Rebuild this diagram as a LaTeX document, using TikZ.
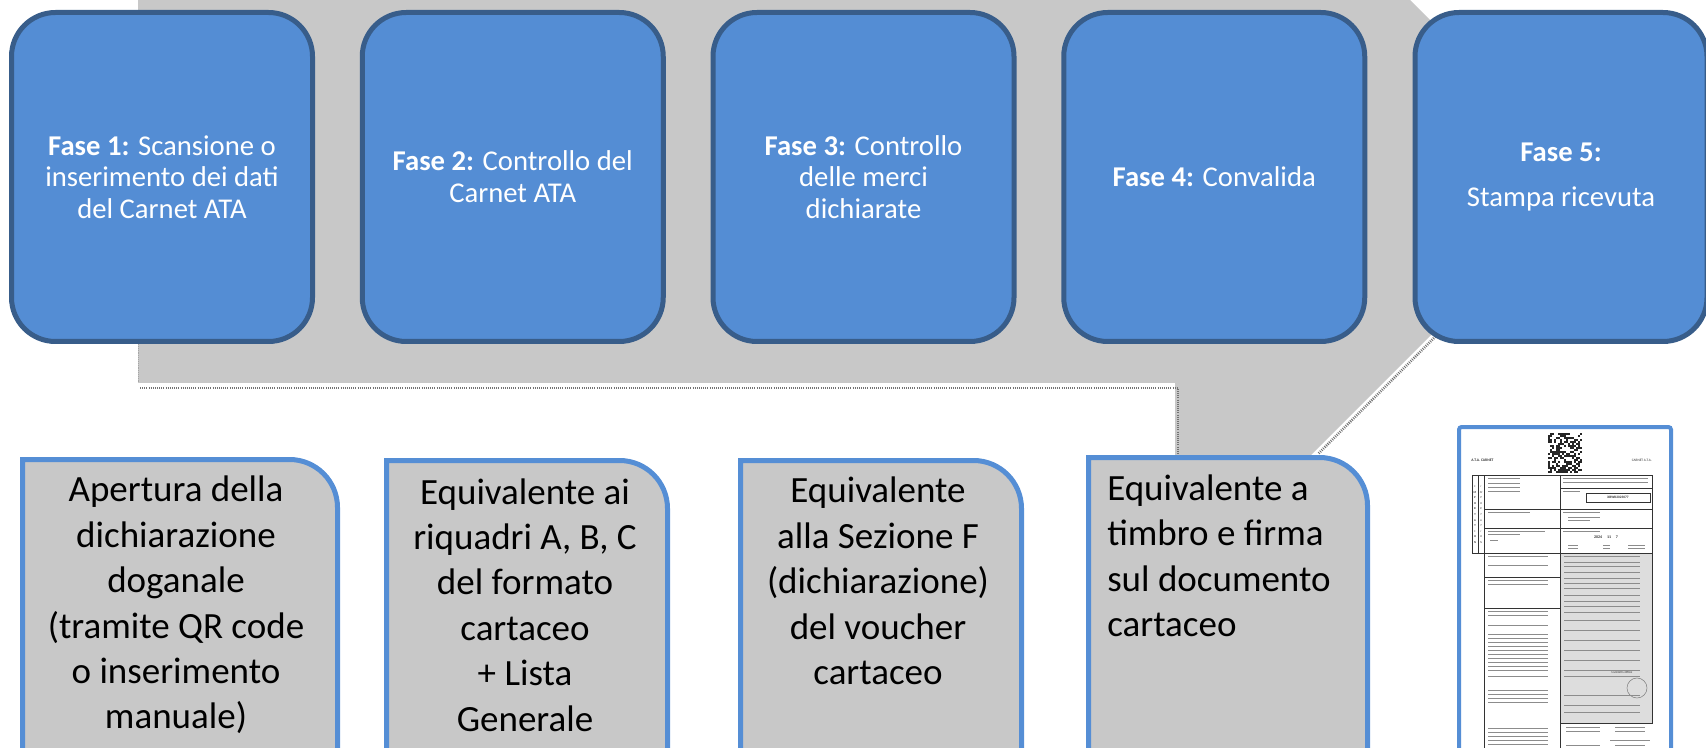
\documentclass[tikz,border=0pt]{standalone}
\usepackage{fontspec}
\setmainfont{Carlito}
\definecolor{phasefill}{HTML}{548DD4}
\definecolor{phaseborder}{HTML}{385D8A}
\definecolor{callgray}{HTML}{C8C8C8}
\definecolor{lightblue}{HTML}{558ED5}
\definecolor{docgray}{HTML}{DDDDDD}
\begin{document}
\begin{tikzpicture}[x=0.75pt,y=-0.75pt,
  phase/.style={draw=phaseborder, fill=phasefill, line width=3.75pt, rounded corners=33pt,
    minimum width=225.75pt, minimum height=246.75pt, text=white, align=center,
    font=\fontsize{21.5}{23.8}\selectfont, inner sep=0pt},
  bottombox/.style={draw=lightblue, fill=callgray, line width=3.75pt},
  bottomtext/.style={align=center, font=\fontsize{27.75}{34.1}\selectfont, inner sep=0pt, text=black},
  rough/.style={draw=black!55, line width=2pt, dash pattern=on 0.7pt off 0.9pt},
  tline/.style={draw=black!45, line width=0.5pt},
  frm/.style={draw=black!80, line width=0.45pt},
  tiny/.style={font=\fontsize{2.6}{3}\selectfont, inner sep=0pt, text=black!80}
]
\useasboundingbox (0,0) rectangle (1706,748);

% gray callout background
\fill[callgray] (138,-10) -- (1400,-10) -- (1588,178) -- (1296,470) -- (1175,470) -- (1175,383) -- (138,383) -- cycle;
\draw[rough] (140,388) -- (1178,388) -- (1178,455);
\draw[rough] (1437,335) -- (1318,454);
\draw[draw=black!35, line width=0.6pt, dash pattern=on 0.6pt off 0.8pt] (138.5,10) -- (138.5,383);

% top phase boxes
\node[phase] (f1) at (162,177) {\textbf{Fase 1:} Scansione o\\inserimento dei dati\\del Carnet ATA};
\node[phase] (f2) at (512.75,177) {\textbf{Fase 2:} Controllo del\\Carnet ATA};
\node[phase] (f3) at (863.5,177) {\textbf{Fase 3:} Controllo\\delle merci\\dichiarate};
\node[phase] (f4) at (1214.25,177) {\textbf{Fase 4:} Convalida};
\node[phase, minimum width=219pt] (f5) at (1561,177) {\textbf{Fase 5:}\\[10pt]Stampa ricevuta};

% bottom boxes
\draw[bottombox] (22.5,800) -- (22.5,459.5) -- (289.5,459.5) arc[start angle=90, end angle=0, radius=36pt] -- (337.5,800) -- cycle;
\draw[bottombox] (386.5,800) -- (386.5,460.5) -- (619.5,460.5) arc[start angle=90, end angle=0, radius=36pt] -- (667.5,800) -- cycle;
\draw[bottombox] (740.5,800) -- (740.5,460.5) -- (973.5,460.5) arc[start angle=90, end angle=0, radius=36pt] -- (1021.5,800) -- cycle;
\draw[bottombox] (1088.5,800) -- (1088.5,457.5) -- (1319.5,457.5) arc[start angle=90, end angle=0, radius=36pt] -- (1367.5,800) -- cycle;

\node[bottomtext] (ta) at (176,605) {Apertura della\\dichiarazione\\doganale\\(tramite QR code\\o inserimento\\manuale)};
\node[bottomtext] (tb) at (525,605) {Equivalente ai\\riquadri A, B, C\\del formato\\cartaceo\\+ Lista\\Generale};
\node[bottomtext] (tc) at (878,581) {Equivalente\\alla Sezione F\\(dichiarazione)\\del voucher\\cartaceo};
\node[bottomtext, align=left, anchor=west] (td) at (1107,556) {Equivalente a\\timbro e firma\\sul documento\\cartaceo};

% document thumbnail
\draw[draw=lightblue, fill=white, line width=3pt, rounded corners=2pt] (1459,800) -- (1459,427) -- (1671,427) -- (1671,800) -- cycle;
\node[tiny, anchor=west, font=\bfseries\fontsize{2.8}{3}\selectfont] (h1) at (1471,460) {A.T.A. CARNET};
\node[tiny, anchor=east] (h2) at (1652,460) {CARNET A.T.A.};
% QR code
\pgfmathsetseed{7}
\fill[black!85] (1548,433) rectangle (1582,473);
\foreach \i in {0,...,16}{\foreach \j in {0,...,19}{
  \pgfmathparse{rnd>0.5?1:0}
  \ifnum\pgfmathresult=1 \fill[white] (1548+2*\i,433+2*\j) rectangle +(2,2);\fi
}}
% upper table
\draw[frm] (1472,475) rectangle (1652,553);
\draw[frm] (1478,475) -- (1478,553);
\draw[frm] (1484,475) -- (1484,553);
\draw[frm] (1560,475) -- (1560,553);
\draw[frm] (1560,488) -- (1652,488);
\draw[frm] (1484,509) -- (1652,509);
\draw[frm] (1484,528) -- (1652,528);
\draw[frm] (1586,493) rectangle (1650,502);
\node[tiny, font=\bfseries\fontsize{2.6}{3}\selectfont] (nr) at (1618,497.5) {XBWK2023077};
\node[tiny, font=\bfseries\fontsize{3}{3}\selectfont] (dt) at (1606,537) {2024 \quad 11 \quad 7};
% left letter columns
\foreach \k [count=\n] in {I,M,P,O,R,T,A,T,I,O,N}{
  \node[tiny, font=\bfseries\fontsize{2.2}{2.4}\selectfont] at (1475,481+5.6*\n) {\k};
  \node[tiny, font=\itshape\fontsize{2.2}{2.4}\selectfont] at (1481,481+5.6*\n) {\k};
}
% text-like lines in upper table
\foreach \y in {478,483,487,491} {\draw[tline] (1488,\y) -- (1520,\y);}
\foreach \y in {478,482} {\draw[tline] (1563,\y) -- (1648,\y);}
\draw[tline] (1563,491) -- (1580,491);
\draw[tline] (1488,512) -- (1530,512);
\draw[tline] (1563,512) -- (1600,512);
\draw[tline] (1568,517) -- (1600,517); \draw[tline] (1568,520) -- (1590,520);
\draw[tline] (1488,531) -- (1545,531); \draw[tline] (1488,534) -- (1520,534);
\draw[tline] (1490,540) -- (1498,540);
\draw[tline] (1563,531) -- (1600,531);
\draw[tline] (1568,545) -- (1578,545); \draw[tline] (1603,545) -- (1610,545); \draw[tline] (1628,545) -- (1645,545);
\draw[tline] (1568,548) -- (1578,548); \draw[tline] (1603,548) -- (1610,548); \draw[tline] (1628,548) -- (1645,548);
% lower part
\fill[docgray] (1560,553) rectangle (1652,723);
\draw[frm] (1560,553) rectangle (1652,723);
\draw[frm] (1484,553) -- (1484,760);
\draw[frm] (1484,577) -- (1560,577);
\draw[frm] (1484,608) -- (1560,608);
\draw[frm] (1560,553) -- (1560,760);
\draw[frm] (1484,553) -- (1560,553);
\draw[black!50, line width=0.4pt] (1637,688) circle (7.5pt);
\node[tiny] (ce) at (1622,672) {Customs office};
\foreach \y in {556,562,566,572,578,583,588,595,601,606,612,620,630,640,650,660,670,676,695,705,712} {\draw[tline] (1564,\y) -- (1640,\y);}
\foreach \y in {556,565,580,584,611,615,625,634,638,642,646,650,654,658,662,666,670,676,690,694,698,702,728,732,736,740,744} {\draw[tline] (1488,\y) -- (1548,\y);}
\foreach \y in {727,731,745} {\draw[tline] (1566,\y) -- (1600,\y); \draw[tline] (1615,\y) -- (1645,\y);}
\draw[tline] (1610,740) -- (1650,740);
\end{tikzpicture}
\end{document}
